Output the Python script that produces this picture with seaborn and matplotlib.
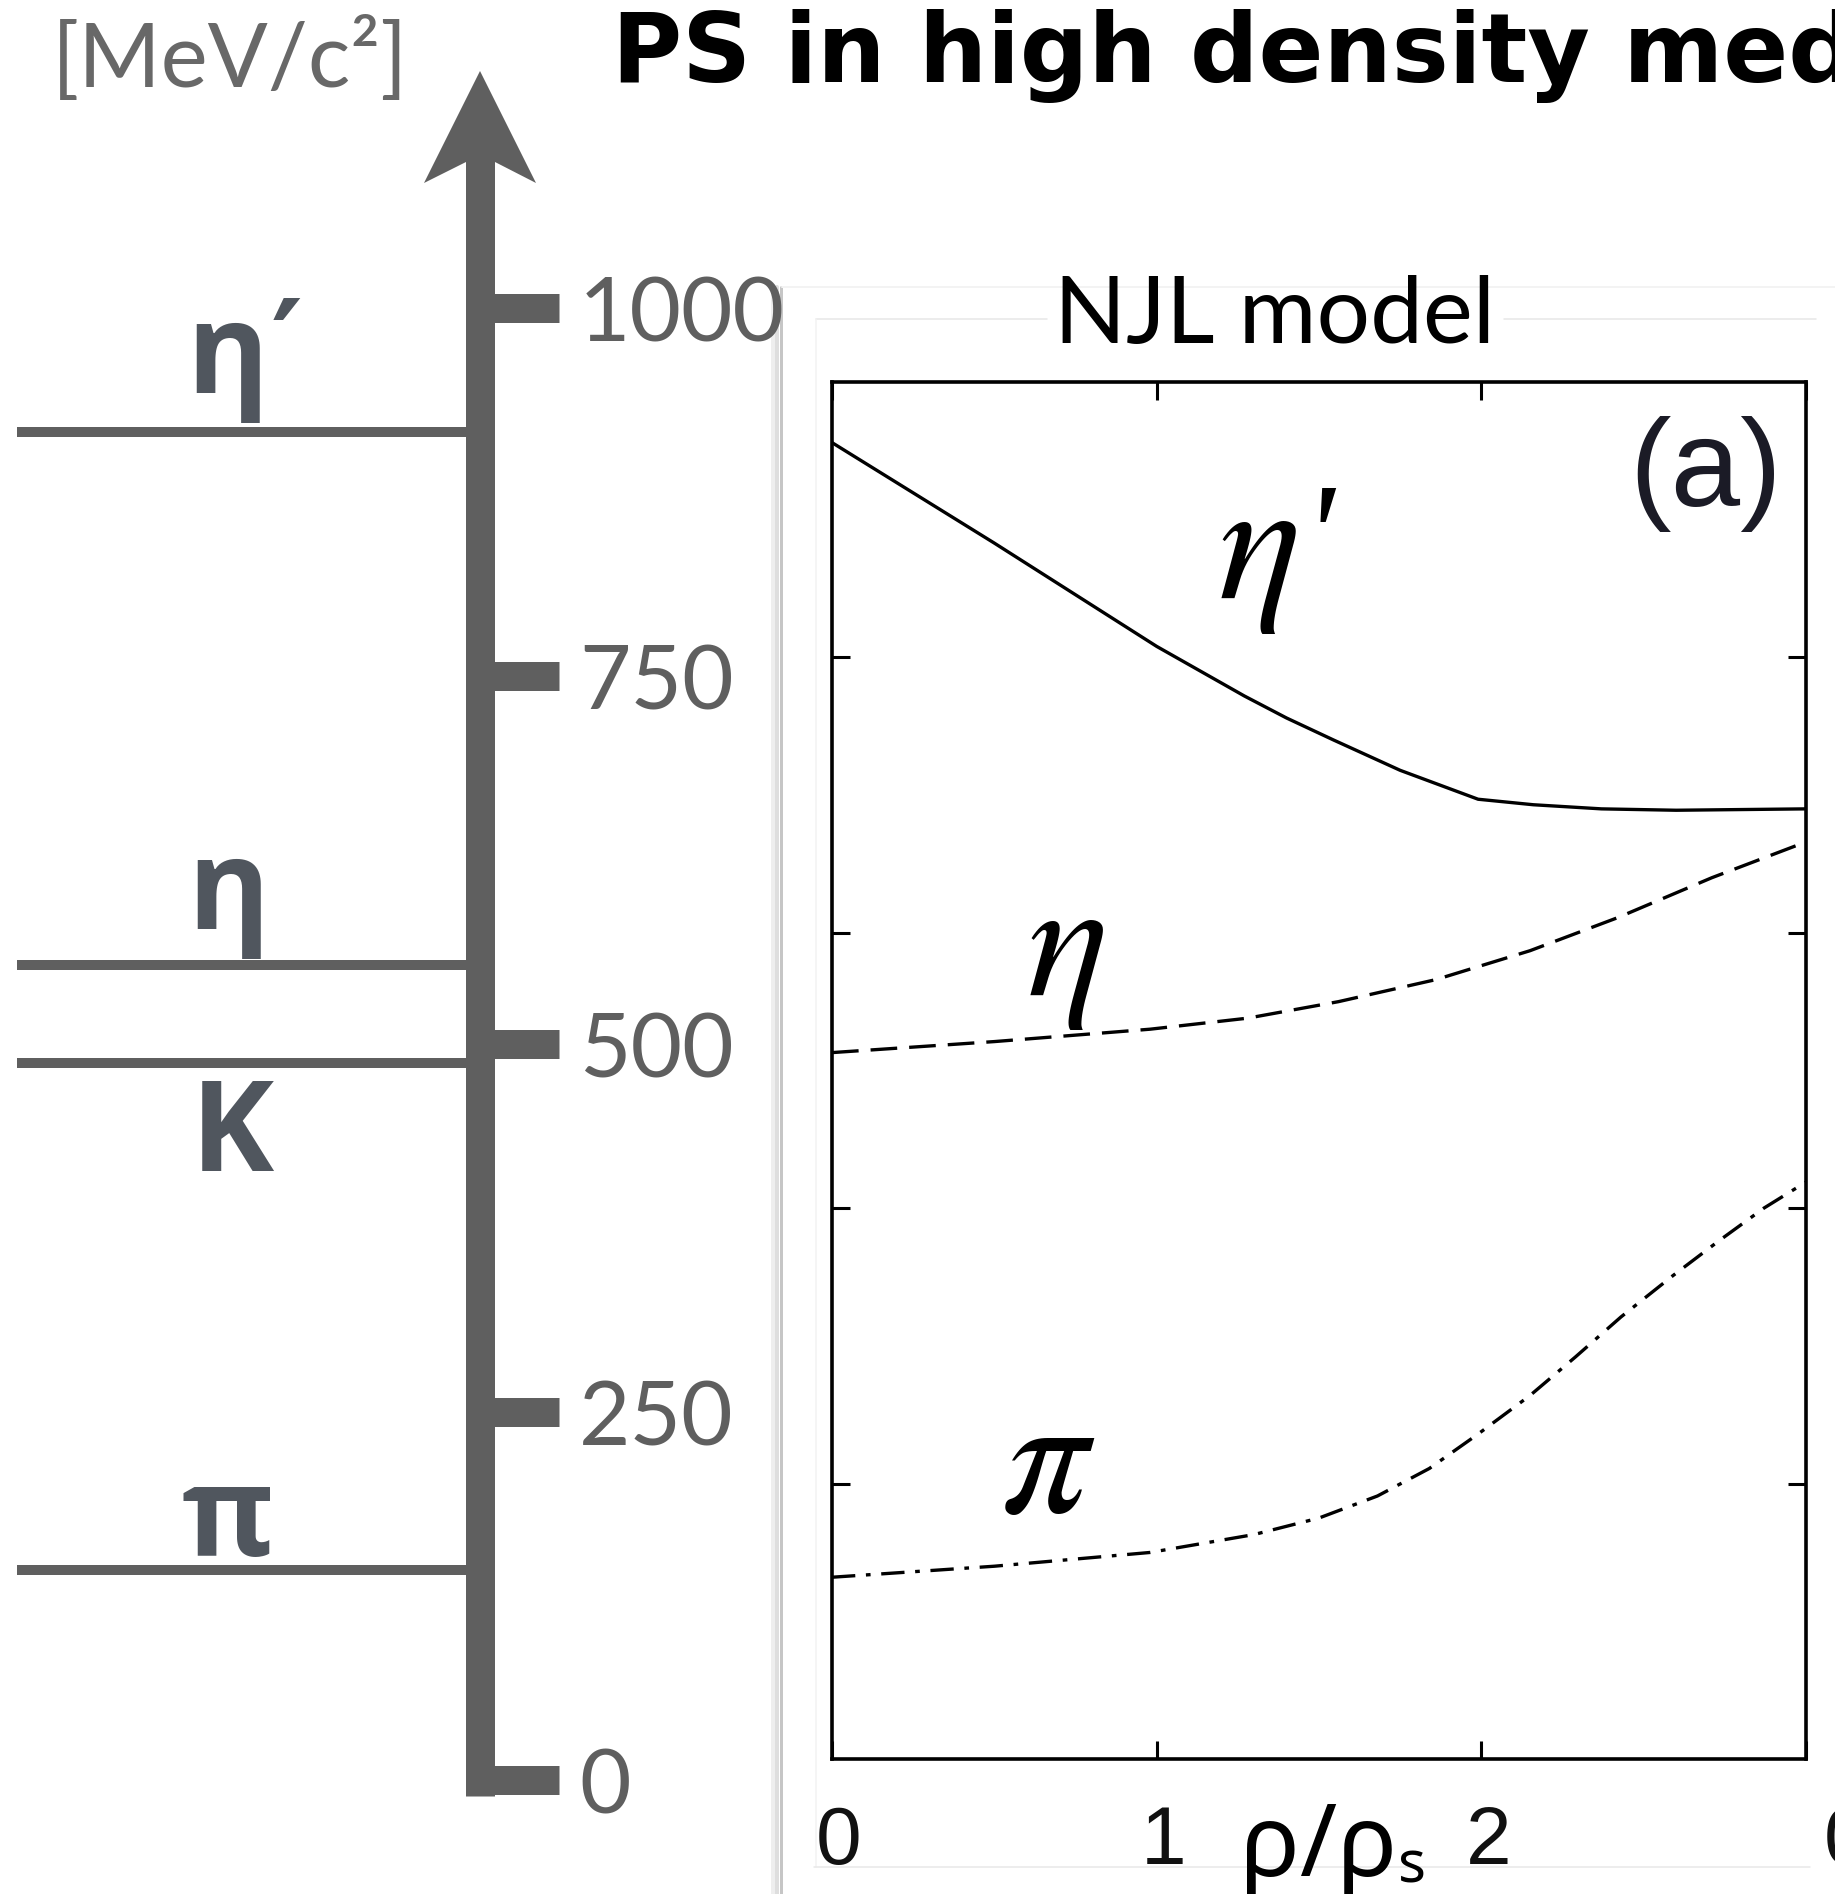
import numpy as np
import pandas as pd
import matplotlib
matplotlib.use("Agg")
import matplotlib.pyplot as plt
import seaborn as sns
from matplotlib.lines import Line2D
from matplotlib.patches import Polygon
from matplotlib.transforms import ScaledTranslation

# ---------------- data ----------------
level_names = ["η", "η", "K", "π"]
level_primes = ["′", "", "", ""]
level_mass = [916, 554, 487, 143]          # MeV/c^2 as drawn on the left scale
mass_ticks = [0, 250, 500, 750, 1000]
mass_tick_labels = ["0", "250", "500", "750", "1000"]

rho_eta_prime = [0, 0.5, 1.0, 1.27, 1.4, 1.545, 1.75, 1.99, 2.16, 2.37, 2.6, 3.0]
m_eta_prime = [956, 883, 808, 772, 756, 740, 718, 697, 693, 690, 689, 690]
rho_eta = [0, 0.5, 0.98, 1.28, 1.56, 1.86, 2.15, 2.42, 2.71, 3.0]
m_eta = [513, 521, 530, 538, 550, 566, 587, 611, 640, 666]
rho_pi = [0, 0.5, 0.98, 1.3, 1.5, 1.68, 1.84, 1.99, 2.15, 2.29, 2.43, 2.59, 2.73, 2.87, 3.0]
m_pi = [132, 140, 150, 163, 175, 191, 211, 236, 264, 292, 321, 351, 376, 400, 419]
rho_ticks = [0, 1, 2, 3]
rho_tick_labels = ["0", "1", "2", ""]
mass_yticks = [200, 400, 600, 800]

df = pd.DataFrame({
    "rho": rho_eta_prime + rho_eta + rho_pi,
    "mass": m_eta_prime + m_eta + m_pi,
    "meson": ["eta_prime"] * len(rho_eta_prime) + ["eta"] * len(rho_eta)
             + ["pi"] * len(rho_pi),
})

# ---------------- style ----------------
sns.set_style("white")
plt.rcParams["font.family"] = ["Lato", "DejaVu Sans"]
plt.rcParams["mathtext.fontset"] = "stix"

W, H = 1835, 1894
fig = plt.figure(figsize=(W / 100, H / 100), dpi=100)
fig.patch.set_facecolor("white")

def fx(px):
    return px / W

def fy(py):
    return 1 - py / H

PT = 0.72  # points per pixel at 100 dpi
GRAY = "#5f5f5f"
LABEL = "#50565e"

# ---------------- left mass scale ----------------
m0_py = 1780.0
ppm = (1780.0 - 308.0) / 1000.0   # pixels per MeV
axm = fig.add_axes([0, 0, 780 / W, 1])
axm.set_xlim(0, 780)
axm.set_ylim((m0_py - H) / ppm, m0_py / ppm)
axm.set_facecolor("none")
for s in ["left", "top", "bottom"]:
    axm.spines[s].set_visible(False)
sp = axm.spines["right"]
sp.set_position(("data", 480))
sp.set_linewidth(29 * PT)
sp.set_color(GRAY)
sp.set_capstyle("butt")
sp.set_bounds((m0_py - 1796) / ppm, (m0_py - 160) / ppm)
axm.set_xticks([])
axm.yaxis.tick_right()
axm.set_yticks(mass_ticks, mass_tick_labels)
axm.tick_params(axis="y", direction="out", length=79 * PT, width=29 * PT,
                color=GRAY, pad=20 * PT, labelsize=64, labelcolor=GRAY)
for lbl in axm.get_yticklabels():
    lbl.set_fontfamily(["Lato", "DejaVu Sans"])
    lbl.set_fontweight("normal")

hl = axm.hlines(level_mass, 17, 466, colors=GRAY, lw=10 * PT)
hl.set_capstyle("butt")

label_offset_px = [-39, -36, 108, -14]
label_x = [227, 228, 232, 228]
for name, prime, m, off, lx in zip(level_names, level_primes, level_mass,
                                   label_offset_px, label_x):
    axm.text(lx, m - off / ppm, name, ha="center", va="baseline",
             fontsize=90, fontweight="bold", color=LABEL,
             family=["Open Sans", "DejaVu Sans"])
    if prime:
        fig.text(fx(271), fy(294), prime, ha="left", va="top", fontsize=88,
                 fontweight="bold", color=LABEL, family=["DejaVu Sans"])

# arrow head
arrow = Polygon([(fx(480), fy(71)), (fx(536), fy(183)), (fx(495), fy(162)),
                 (fx(466), fy(162)), (fx(424), fy(183))],
                closed=True, transform=fig.transFigure, facecolor=GRAY,
                edgecolor="none", zorder=5)
fig.add_artist(arrow)

fig.text(fx(52), fy(87), "[MeV/c²]", ha="left", va="baseline", fontsize=64,
         fontweight="normal", color="#686868", family=["Lato", "DejaVu Sans"])

# ---------------- faint frame of the pasted figure ----------------
def fline(x0, y0, x1, y1, color, lwpx):
    fig.add_artist(Line2D([fx(x0), fx(x1)], [fy(y0), fy(y1)], color=color,
                          lw=lwpx * PT, transform=fig.transFigure, zorder=0))

fline(773, 287, 773, H, "#eeeeee", 4)
fline(777, 287, 777, H, "#dedede", 4)
fline(781, 287, 781, H, "#c6c6c6", 3)
fline(782, 287, W, 287, "#f3f3f3", 2)
fline(816, 319, 1047, 319, "#e6e6e6", 1.5)
fline(1504, 319, 1816, 319, "#e6e6e6", 1.5)
fline(816, 319, 816, 1867, "#f2f2f2", 1.5)
fline(814, 1867, 1810, 1867, "#e8e8e8", 1.5)

# ---------------- right NJL plot ----------------
ax = fig.add_axes([fx(832), fy(1759), (1806 - 832) / W, (1759 - 382) / H])
sns.lineplot(data=df, x="rho", y="mass", style="meson",
             style_order=["eta_prime", "eta", "pi"],
             dashes={"eta_prime": "", "eta": (8, 3.6), "pi": (7, 3.2, 1.4, 3.2)},
             color="black", lw=2.4, legend=False, ax=ax, estimator=None)
ax.set_xlim(0, 3)
ax.set_ylim(0, 1000)
ax.set_xlabel("")
ax.set_ylabel("")
ax.set_xticks(rho_ticks, rho_tick_labels)
ax.set_yticks(mass_yticks, [])
ax.tick_params(direction="in", top=True, right=True, bottom=True, left=True,
               length=13, width=2.2, color="black")
ax.tick_params(axis="x", pad=33, labelsize=59, labelcolor="#111111")
for lbl in ax.get_xticklabels():
    lbl.set_fontfamily(["Liberation Sans", "DejaVu Sans"])
    lbl.set_transform(lbl.get_transform()
                      + ScaledTranslation(7 / 100, 0, fig.dpi_scale_trans))
for s in ax.spines.values():
    s.set_visible(True)
    s.set_linewidth(2.6)
    s.set_color("black")

ax.text(1.31, 873, r"$\eta$", ha="center", va="center", fontsize=125, color="black")
fig.text(fx(1303), fy(482), "'", ha="left", va="top", fontsize=105,
         style="italic", color="black", family=["Liberation Serif", "DejaVu Serif"])
ax.text(0.72, 584, r"$\eta$", ha="center", va="center", fontsize=122, color="black")
ax.text(0.666, 215, r"$\pi$", ha="center", va="center", fontsize=124, color="black")
ax.text(2.69, 933, "(a)", ha="center", va="center", fontsize=90,
        color="#1b1b26", family=["Liberation Sans", "DejaVu Sans"])

fig.text(fx(1275), fy(343), "NJL model", ha="center", va="baseline",
         fontsize=68, color="black", family=["Lato", "DejaVu Sans"])

fig.text(fx(612), fy(82), "PS in high density medium", ha="left", va="baseline",
         fontsize=69, fontweight="bold", color="black", family=["DejaVu Sans"])

# partial tick label of the neighbouring panel, cut by the slide edge
fig.text(fx(1824), fy(1864), "0", ha="left", va="baseline", fontsize=59,
         color="#111111", family=["Liberation Sans", "DejaVu Sans"])

# x-axis label rho/rho_s
renderer = fig.canvas.get_renderer()
t1 = fig.text(fx(1240), fy(1876), "ρ/ρ", ha="left", va="baseline", fontsize=72,
              color="black", family=["Noto Sans", "DejaVu Sans"])
bb = t1.get_window_extent(renderer)
fig.text(bb.x1 / W + 1 / W, fy(1882), "s", ha="left", va="baseline",
         fontsize=42, color="black", family=["Noto Sans", "DejaVu Sans"])

fig.savefig("out.png", dpi=100, facecolor="white")
